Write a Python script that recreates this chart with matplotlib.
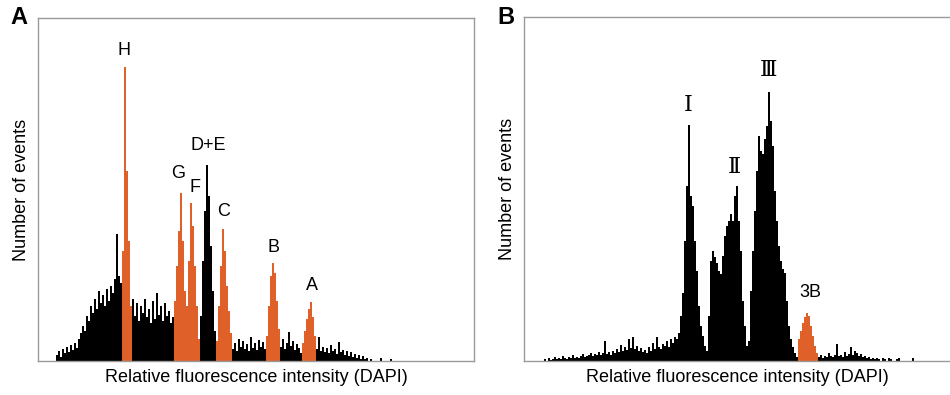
import numpy as np
import matplotlib
matplotlib.use("Agg")
import matplotlib.pyplot as plt

plt.rcParams['font.family'] = ['Liberation Sans', 'DejaVu Sans']

# panel A: DAPI histogram (2 channels per bin), events per bin
a_counts = [
    6, 10, 4, 12, 8, 14, 9, 16, 11, 18,
    13, 22, 28, 35, 30, 45, 40, 55, 48, 62,
    52, 70, 58, 66, 55, 72, 60, 75, 68, 82,
    127, 85, 78, 110, 294, 190, 120, 55, 62, 45,
    58, 40, 55, 48, 62, 44, 52, 38, 60, 42,
    68, 46, 55, 40, 58, 45, 50, 38, 44, 60,
    95, 130, 168, 120, 70, 55, 100, 158, 135, 95,
    55, 22, 45, 100, 150, 196, 165, 115, 70, 30,
    20, 55, 95, 132, 110, 75, 50, 28, 12, 18,
    10, 22, 14, 20, 12, 17, 10, 24, 13, 18,
    11, 21, 14, 19, 12, 25, 55, 85, 98, 88,
    60, 32, 14, 22, 12, 18, 29, 15, 20, 11,
    17, 13, 8, 18, 30, 42, 52, 59, 44, 25,
    12, 24, 10, 14, 9, 13, 8, 16, 10, 12,
    7, 19, 9, 11, 6, 10, 5, 9, 4, 7,
    3, 6, 2, 5, 2, 3, 0, 2, 0, 0,
    0, 0, 3, 0, 0, 0, 0, 2,
]
# gates (bin ranges) drawn in orange, and the peak labels
a_gates = [(33, 38), (59, 72), (80, 88), (105, 112), (123, 130)]
a_labels = ['H', 'G', 'F', 'D+E', 'C', 'B', 'A']

# panel B
b_counts = [
    2, 0, 3, 1, 2, 4, 2, 3, 2, 5,
    3, 2, 4, 3, 6, 3, 4, 3, 5, 7,
    4, 5, 6, 8, 5, 7, 6, 9, 6, 8,
    20, 7, 9, 6, 10, 8, 12, 9, 16, 10,
    14, 11, 22, 13, 24, 12, 15, 10, 13, 9,
    11, 8, 14, 10, 18, 12, 24, 14, 12, 17,
    15, 20, 14, 22, 18, 24, 22, 28, 45, 68,
    120, 175, 236, 165, 155, 120, 90, 55, 35, 25,
    15, 10, 45, 100, 110, 104, 98, 90, 87, 105,
    125, 135, 140, 147, 140, 165, 175, 140, 110, 60,
    35, 15, 20, 70, 110, 150, 190, 225, 210, 207,
    222, 235, 269, 240, 215, 170, 140, 115, 100, 92,
    88, 60, 35, 22, 14, 8, 4, 22, 30, 38,
    44, 48, 45, 35, 25, 15, 8, 4, 6, 3,
    5, 4, 8, 5, 4, 6, 17, 5, 6, 4,
    9, 5, 7, 14, 6, 10, 8, 5, 7, 4,
    5, 3, 4, 2, 3, 2, 3, 2, 0, 3,
    2, 0, 3, 2, 0, 0, 2, 3, 0, 0,
    0, 0, 0, 0, 3,
]
b_gates = [(127, 137)]
b_labels = ['Ⅰ', 'Ⅱ', 'Ⅲ', '3B']

ORANGE = '#e0602a'
GRID = '#9a9a9a'


def bar_colors(n, gates):
    cols = ['black'] * n
    for s, e in gates:
        for i in range(s, e):
            cols[i] = ORANGE
    return cols


def draw_hist(ax, counts, gates):
    x = np.arange(len(counts))
    cols = bar_colors(len(counts), gates)
    ax.bar(x, counts, width=1.0, align='edge', color=cols, linewidth=0,
           antialiased=False)
    ax.set_xticks([])
    ax.set_yticks([])
    for s in ax.spines.values():
        s.set_color(GRID)
        s.set_linewidth(1.0)
    ax.set_xlabel('Relative fluorescence intensity (DAPI)', fontsize=13, labelpad=6)
    ax.set_ylabel('Number of events', fontsize=13, labelpad=6)


fig = plt.figure(figsize=(9.5, 3.95), dpi=100)

axA = fig.add_axes([0.040, 0.086, 0.459, 0.868])
draw_hist(axA, a_counts, a_gates)
axA.set_xlim(-9, 209)
axA.set_ylim(0, 343)
a_pos = [(34, 311), (61, 188), (69.5, 174), (76, 216), (84, 150), (108.5, 114), (128, 76)]
for lab, (tx, ty) in zip(a_labels, a_pos):
    axA.text(tx, ty, lab, fontsize=13, ha='center', va='center')

axB = fig.add_axes([0.5516, 0.086, 0.4484, 0.871])
draw_hist(axB, b_counts, b_gates)
axB.spines['right'].set_visible(False)
axB.set_xlim(-10, 203)
axB.set_ylim(0, 344)
b_pos = [(72, 256), (95, 194), (112, 291), (133, 69)]
for lab, (tx, ty) in zip(b_labels, b_pos):
    if lab == '3B':
        axB.text(tx, ty, lab, fontsize=13, ha='center', va='center')
    else:
        axB.text(tx, ty, lab, fontsize=16, ha='center', va='center',
                 family=['DejaVu Serif', 'DejaVu Sans'])

fig.text(0.020, 0.955, 'A', fontsize=17, fontweight='bold', ha='center', va='center')
fig.text(0.533, 0.955, 'B', fontsize=17, fontweight='bold', ha='center', va='center')

fig.savefig('out.png', dpi=100)
